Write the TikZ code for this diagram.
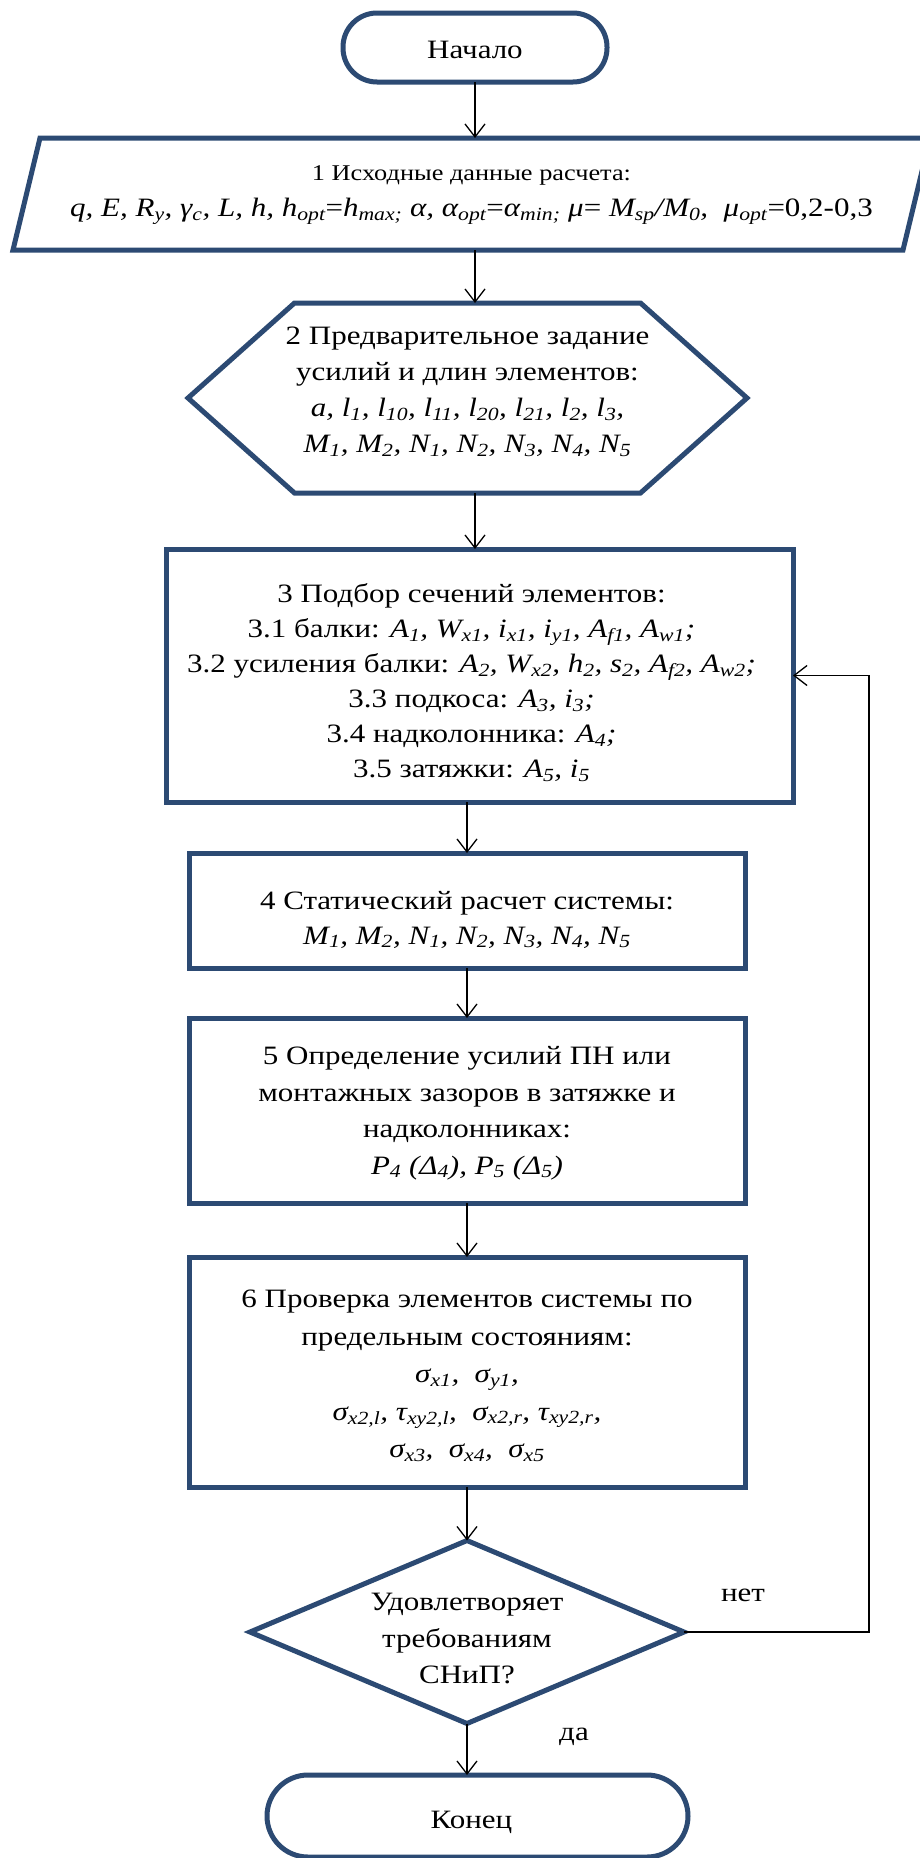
\documentclass[tikz,border=0pt]{standalone}
\usepackage{fontspec}
\setmainfont{Liberation Serif}[FakeStretch=1.17]
\usetikzlibrary{arrows.meta,calc}
\definecolor{bord}{HTML}{2C4A73}
\newcommand\lo[1]{\textsubscript{#1}}
\begin{document}
\begin{tikzpicture}[x=1pt,y=-1pt,
  every node/.style={inner sep=0pt, outer sep=0pt, align=center, font=\fontsize{26.5}{36}\selectfont},
  blk/.style={draw=bord, line width=5pt, rectangle},
  term/.style={draw=bord, line width=5pt, rectangle},
  ghost/.style={rectangle},
  shp/.style={draw=bord, line width=5pt, line join=miter},
  arr/.style={draw=black, line width=1.3pt, -{Straight Barb[length=13pt,width=20pt,line width=1.3pt]}}]
\useasboundingbox (0,0) rectangle (919,1858);
\fill[white] (0,0) rectangle (919,1858);

% start
\node[term, rounded corners=34pt, minimum width=264pt, minimum height=69pt] (start) at (475,47.5) {};
\node (startt) at ([yshift=-2.5pt]start.center) {Начало};

% 1 input data (parallelogram)
\node[ghost, minimum width=890pt, minimum height=112pt] (para) at (471.5,194) {};
\draw[shp] ([xshift=13.5pt]para.north west) -- ([xshift=13.5pt]para.north east)
  -- ([xshift=-13.5pt]para.south east) -- ([xshift=-13.5pt]para.south west) -- cycle;
\node (parat) at ([yshift=-1pt]para.center)
  {\fontsize{22.5}{27}\selectfont 1 Исходные данные расчета:\\
   \fontsize{26.5}{27}\selectfont
   \textit{q, E, R\lo{y}, γ\lo{c}, L, h, h\lo{opt}}=\textit{h\lo{max;} α, α\lo{opt}}=\textit{α\lo{min;} μ}= \textit{M\lo{sp}/M\lo{0}, \ μ\lo{opt}}=0,2-0,3};

% 2 hexagon
\node[ghost, minimum width=559pt, minimum height=190pt] (hex) at (467.5,398) {};
\draw[shp] (hex.west) -- ([xshift=106.5pt]hex.north west) -- ([xshift=-106.5pt]hex.north east)
  -- (hex.east) -- ([xshift=-106.5pt]hex.south east) -- ([xshift=106.5pt]hex.south west) -- cycle;
\node (hext) at ([yshift=6pt]hex.center)
  {2 Предварительное задание\\
   усилий и длин элементов:\\
   \textit{a, l\lo{1}, l\lo{10}, l\lo{11}, l\lo{20}, l\lo{21}, l\lo{2}, l\lo{3},}\\
   \textit{M\lo{1}, M\lo{2}, N\lo{1}, N\lo{2}, N\lo{3}, N\lo{4}, N\lo{5}}};

% 3
\node[blk, minimum width=627pt, minimum height=253pt] (b3) at (479.5,675.5) {};
\node[font=\fontsize{26.5}{35}\selectfont] (b3t) at ([xshift=-8pt,yshift=-7pt]b3.center)
  {3 Подбор сечений элементов:\\
   3.1 балки: \textit{A\lo{1}, W\lo{x1}, i\lo{x1}, i\lo{y1}, A\lo{f1}, A\lo{w1};}\\
   3.2 усиления балки: \textit{A\lo{2}, W\lo{x2}, h\lo{2}, s\lo{2}, A\lo{f2}, A\lo{w2};}\\
   3.3 подкоса: \textit{A\lo{3}, i\lo{3};}\\
   3.4 надколонника: \textit{A\lo{4};}\\
   3.5 затяжки: \textit{A\lo{5}, i\lo{5}}};

% 4
\node[blk, minimum width=556pt, minimum height=115pt] (b4) at (467,910.5) {};
\node[font=\fontsize{26.5}{35}\selectfont] (b4t) at ([yshift=-9pt]b4.center)
  {4 Статический расчет системы:\\
   \textit{M\lo{1}, M\lo{2}, N\lo{1}, N\lo{2}, N\lo{3}, N\lo{4}, N\lo{5}}};

% 5
\node[blk, minimum width=556pt, minimum height=185pt] (b5) at (467,1110.5) {};
\node[font=\fontsize{26.5}{36.5}\selectfont] (b5t) at ([yshift=-2.5pt]b5.center)
  {5 Определение усилий ПН или\\
   монтажных зазоров в затяжке и\\
   надколонниках:\\
   \textit{P\lo{4} (Δ\lo{4}), P\lo{5} (Δ\lo{5})}};

% 6
\node[blk, minimum width=556pt, minimum height=230pt] (b6) at (467,1372) {};
\node[font=\fontsize{26.5}{37.5}\selectfont] (b6t) at ([yshift=-4pt]b6.center)
  {6 Проверка элементов системы по\\
   предельным состояниям:\\
   \textit{σ\lo{x1}, \ σ\lo{y1},}\\
   \textit{σ\lo{x2,l}, τ\lo{xy2,l}, \ σ\lo{x2,r}, τ\lo{xy2,r},}\\
   \textit{σ\lo{x3}, \ σ\lo{x4}, \ σ\lo{x5}}};

% decision
\node[ghost, minimum width=434pt, minimum height=183pt] (dec) at (467,1632) {};
\draw[shp] (dec.north) -- (dec.east) -- (dec.south) -- (dec.west) -- cycle;
\node[font=\fontsize{26.5}{36.5}\selectfont] (dect) at ([yshift=-6.5pt]dec.center)
  {Удовлетворяет\\ требованиям\\ СНиП?};

% end
\node[term, rounded corners=41pt, minimum width=421pt, minimum height=82pt] (end) at (477.5,1816) {};
\node (endt) at ([xshift=-6pt,yshift=-6pt]end.center) {Конец};

% labels
\node (no) at (743,1595) {нет};
\node (yes) at (574,1737) {да};

% connectors
\draw[arr] (start.south) -- (start.south |- para.north);
\draw[arr] (para.south -| start) -- (hex.north -| start);
\draw[arr] (hex.south -| start) -- (b3.north -| start);
\draw[arr] (b3.south -| b4) -- (b4.north);
\draw[arr] (b4.south) -- (b5.north);
\draw[arr] (b5.south) -- (b6.north);
\draw[arr] (b6.south) -- (dec.north);
\draw[arr] (dec.south) -- (dec.south |- end.north);
\draw[arr] (dec.east) -- ++(185,0) |- (b3.east);
\end{tikzpicture}
\end{document}
